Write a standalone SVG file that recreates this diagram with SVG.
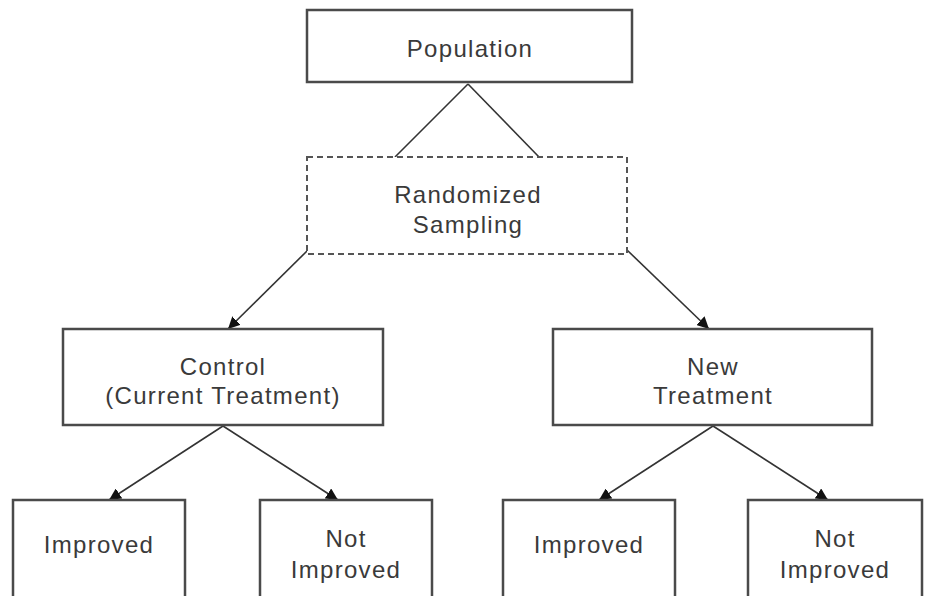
<svg xmlns="http://www.w3.org/2000/svg" width="930" height="596" viewBox="0 0 930 596">
<defs>
<marker id="arr" viewBox="0 0 10 10" refX="10" refY="5" markerWidth="12" markerHeight="12" markerUnits="userSpaceOnUse" orient="auto">
<path d="M0,0 L10,5 L0,10 z" fill="#111"/>
</marker>
</defs>
<style>
.box{fill:#fff;stroke:#4a4a4a;stroke-width:2.5}
.dbox{fill:#fff;stroke:#555;stroke-width:2;stroke-dasharray:6,4}
.t{font-family:"Liberation Sans",Arial,sans-serif;font-size:24px;fill:#3a3a3a;text-anchor:middle;letter-spacing:1.3px}
.c{stroke:#333;stroke-width:1.6;fill:none}
</style>
<rect width="930" height="596" fill="#fff"/>
<g id="connectors">
<line class="c" x1="468" y1="84" x2="395" y2="157"/>
<line class="c" x1="468" y1="84" x2="539" y2="157"/>
<line class="c" x1="308" y1="250" x2="228" y2="329" marker-end="url(#arr)"/>
<line class="c" x1="627" y1="250" x2="709" y2="329" marker-end="url(#arr)"/>
<line class="c" x1="223" y1="426" x2="109" y2="500" marker-end="url(#arr)"/>
<line class="c" x1="223" y1="426" x2="338" y2="500" marker-end="url(#arr)"/>
<line class="c" x1="713" y1="426" x2="599" y2="500" marker-end="url(#arr)"/>
<line class="c" x1="713" y1="426" x2="828" y2="500" marker-end="url(#arr)"/>
</g>
<g id="population">
<rect class="box" x="307" y="10" width="325" height="72"/>
<text class="t" x="470" y="57">Population</text>
</g>
<g id="sampling">
<rect class="dbox" x="307" y="157" width="320" height="97"/>
<text class="t" x="468" y="203">Randomized</text>
<text class="t" x="468" y="233">Sampling</text>
</g>
<g id="control">
<rect class="box" x="63" y="329" width="320" height="96"/>
<text class="t" x="223" y="375">Control</text>
<text class="t" x="223" y="404">(Current Treatment)</text>
</g>
<g id="newtreatment">
<rect class="box" x="553" y="329" width="319" height="96"/>
<text class="t" x="713" y="375">New</text>
<text class="t" x="713" y="404">Treatment</text>
</g>
<g id="c-improved">
<rect class="box" x="13" y="500" width="172" height="110"/>
<text class="t" x="99" y="553">Improved</text>
</g>
<g id="c-notimproved">
<rect class="box" x="260" y="500" width="172" height="110"/>
<text class="t" x="346" y="547">Not</text>
<text class="t" x="346" y="578">Improved</text>
</g>
<g id="n-improved">
<rect class="box" x="503" y="500" width="172" height="110"/>
<text class="t" x="589" y="553">Improved</text>
</g>
<g id="n-notimproved">
<rect class="box" x="748" y="500" width="174" height="110"/>
<text class="t" x="835" y="547">Not</text>
<text class="t" x="835" y="578">Improved</text>
</g>
</svg>
